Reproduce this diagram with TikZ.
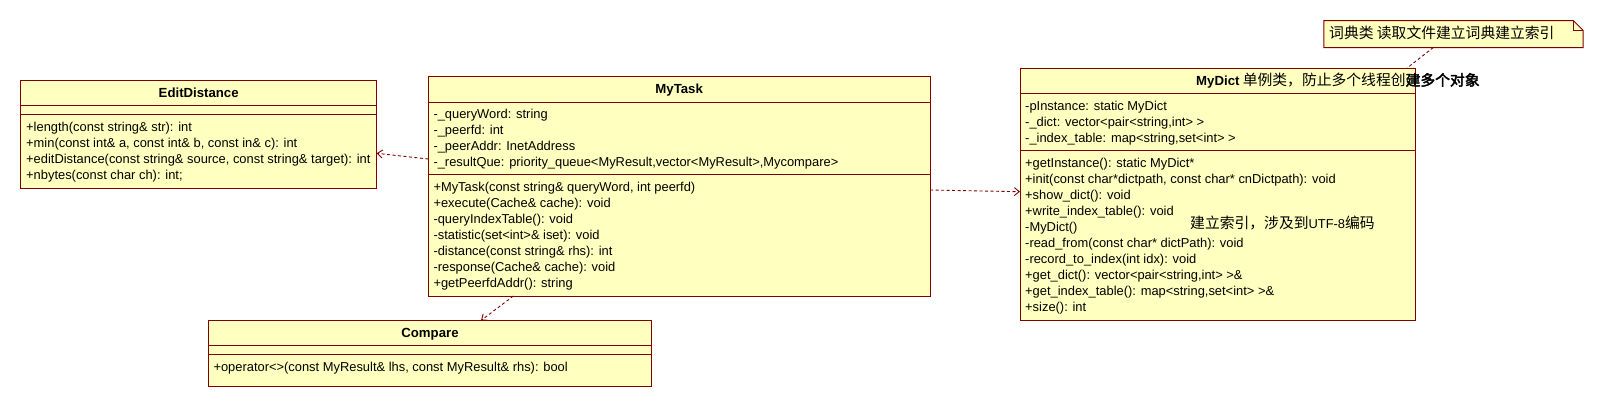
\documentclass[tikz,border=0pt]{standalone}
\usepackage{fontspec}
\setmainfont{Liberation Sans}
\newfontfamily\cjk{Noto Sans CJK SC}
\newfontfamily\cjkb[FakeBold=2.5]{Noto Sans CJK SC}
\usetikzlibrary{arrows.meta}
\definecolor{edgec}{RGB}{128,0,0}
\definecolor{fillc}{RGB}{255,255,192}
\newcommand{\lfs}{\fontsize{12.9}{15}\selectfont}
\newcommand{\cfs}{\fontsize{14.8}{17}\cjk}
\begin{document}
\begin{tikzpicture}[x=1pt,y=-1pt,
  cls/.style={draw=edgec, fill=fillc, line width=1pt, inner sep=0pt, outer sep=0pt},
  sepline/.style={draw=edgec, line width=1pt},
  txt/.style={anchor=west, inner sep=0pt, text height=9pt, text depth=0pt, font=\lfs},
  ttl/.style={inner sep=0pt, text height=9pt, text depth=0pt, font=\fontsize{13.2}{15}\selectfont\bfseries},
  cjkt/.style={anchor=west, inner sep=0pt, font=\cfs},
  dep/.style={draw=edgec, line width=0.9pt, dash pattern=on 3pt off 2.5pt, -{Straight Barb[length=5pt,width=8pt]}},
  notelink/.style={draw=edgec, line width=0.9pt, dash pattern=on 3pt off 2.5pt}
]
\fill[white] (0,0) rectangle (1605,408);
\useasboundingbox (0,0) rectangle (1605,408);

% ---------- EditDistance ----------
\node[cls, minimum width=356pt, minimum height=107.6pt] (ed) at (198.7,134.5) {};
\draw[sepline] (20.7,105) -- (376.7,105);
\draw[sepline] (20.7,114.3) -- (376.7,114.3);
\node[ttl] (edt) at (198.7,92.7) {EditDistance};
\node[txt] (ed1) at (26,126.7) {+length(const string\& str): int};
\node[txt] (ed2) at (26,142.8) {+min(const int\& a, const int\& b, const in\& c): int};
\node[txt] (ed3) at (26,158.9) {+editDistance(const string\& source, const string\& target): int};
\node[txt] (ed4) at (26,175) {+nbytes(const char ch): int;};

% ---------- MyTask ----------
\node[cls, minimum width=501.7pt, minimum height=219.5pt] (task) at (679.15,186.25) {};
\draw[sepline] (428.3,102) -- (930,102);
\draw[sepline] (428.3,174.5) -- (930,174.5);
\node[ttl] (taskt) at (679.15,89) {MyTask};
\node[txt] (ta1) at (433.3,113.5) {-\_queryWord: string};
\node[txt] (ta2) at (433.3,129.5) {-\_peerfd: int};
\node[txt] (ta3) at (433.3,145.5) {-\_peerAddr: InetAddress};
\node[txt] (ta4) at (433.3,161.5) {-\_resultQue: priority\_queue<MyResult,vector<MyResult>,Mycompare>};
\node[txt] (to1) at (433.3,186.5) {+MyTask(const string\& queryWord, int peerfd)};
\node[txt] (to2) at (433.3,202.5) {+execute(Cache\& cache): void};
\node[txt] (to3) at (433.3,218.5) {-queryIndexTable(): void};
\node[txt] (to4) at (433.3,234.5) {-statistic(set<int>\& iset): void};
\node[txt] (to5) at (433.3,250.5) {-distance(const string\& rhs): int};
\node[txt] (to6) at (433.3,266.5) {-response(Cache\& cache): void};
\node[txt] (to7) at (433.3,282.5) {+getPeerfdAddr(): string};

% ---------- MyDict ----------
\node[cls, minimum width=395pt, minimum height=251.7pt] (dict) at (1217.5,194.15) {};
\draw[sepline] (1020,93.3) -- (1415,93.3);
\draw[sepline] (1020,150) -- (1415,150);
\node[anchor=west, inner sep=0pt] (dictt) at (1196,80.7) {\fontsize{13.2}{15}\selectfont\bfseries MyDict\cfs\mdseries{} 单例类，防止多个线程创\cjkb 建多个对象};
\node[txt] (da1) at (1025,105.7) {-pInstance: static MyDict};
\node[txt] (da2) at (1025,121.7) {-\_dict: vector<pair<string,int> >};
\node[txt] (da3) at (1025,137.7) {-\_index\_table: map<string,set<int> >};
\node[txt] (do1) at (1025,162.5) {+getInstance(): static MyDict*};
\node[txt] (do2) at (1025,178.5) {+init(const char*dictpath, const char* cnDictpath): void};
\node[txt] (do3) at (1025,194.5) {+show\_dict(): void};
\node[txt] (do4) at (1025,210.5) {+write\_index\_table(): void};
\node[txt] (do5) at (1025,226.5) {-MyDict()};
\node[txt] (do6) at (1025,242.5) {-read\_from(const char* dictPath): void};
\node[txt] (do7) at (1025,258.5) {-record\_to\_index(int idx): void};
\node[txt] (do8) at (1025,274.5) {+get\_dict(): vector<pair<string,int> >\&};
\node[txt] (do9) at (1025,290.5) {+get\_index\_table(): map<string,set<int> >\&};
\node[txt] (do10) at (1025,306.5) {+size(): int};
\node[anchor=west, inner sep=0pt] (dnote) at (1190,223.5) {\cfs 建立索引，涉及到{\lfs\rmfamily UTF-8}编码};

% ---------- Compare ----------
\node[cls, minimum width=443.2pt, minimum height=66pt] (cmp) at (430,353.5) {};
\draw[sepline] (208.4,345) -- (651.6,345);
\draw[sepline] (208.4,354.3) -- (651.6,354.3);
\node[ttl] (cmpt) at (430,332.7) {Compare};
\node[txt] (cmp1) at (213.3,366.7) {+operator<>(const MyResult\& lhs, const MyResult\& rhs): bool};

% ---------- Note ----------
\node[inner sep=0pt, minimum width=259pt, minimum height=26.6pt] (note) at (1453.5,34) {};
\draw[draw=edgec, fill=fillc, line width=1pt]
  (note.north west) -- ([xshift=-10pt]note.north east) -- ([yshift=-10pt]note.north east)
  -- (note.south east) -- (note.south west) -- cycle;
\draw[draw=edgec, line width=0.8pt]
  ([xshift=-10pt]note.north east) -- ([xshift=-10pt,yshift=-10pt]note.north east) -- ([yshift=-10pt]note.north east);
\node[cjkt] (notet) at (1329,33) {词典类 读取文件建立词典建立索引};

% ---------- Connectors ----------
\draw[dep] ([yshift=27.25pt]task.west) -- ([yshift=-18.8pt]ed.east);
\draw[dep] ([yshift=-3.75pt]task.east) -- ([yshift=2.45pt]dict.west);
\draw[dep] ([xshift=-165.8pt]task.south) -- ([xshift=51pt]cmp.north);
\draw[notelink] ([xshift=-20.2pt]note.south) -- ([xshift=189.2pt]dict.north);
\end{tikzpicture}
\end{document}
